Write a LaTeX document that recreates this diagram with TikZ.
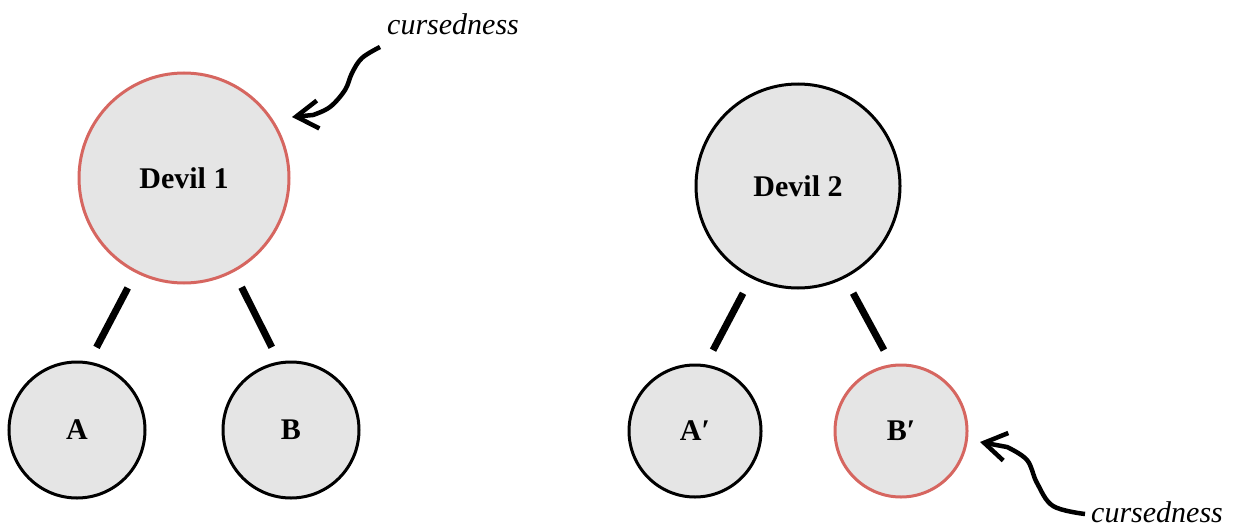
\documentclass[tikz,border=0pt]{standalone}
\usepackage{fontspec}
\setmainfont{Liberation Serif}
\usetikzlibrary{arrows.meta}
\definecolor{ballfill}{RGB}{229,229,229}
\definecolor{cursered}{RGB}{214,102,96}
\tikzset{
  ball/.style={circle, draw=black, line width=3pt, fill=ballfill, inner sep=0pt,
    font=\fontsize{30}{36}\selectfont\bfseries},
  cursed/.style={draw=cursered},
  link/.style={line width=7pt, shorten >=16pt, shorten <=17pt},
  note/.style={font=\fontsize{30}{36}\selectfont\itshape, inner sep=0pt},
  curl/.style={line width=4.5pt, -{Straight Barb[length=22pt,width=28pt,line width=4.5pt]}}
}
\begin{document}
\begin{tikzpicture}[x=1pt,y=-1pt]
  \useasboundingbox (0,0) rectangle (1233,527);

  % left tree
  \node[ball, cursed, minimum size=210pt] (D1) at (184,178) {Devil 1};
  \node[ball, minimum size=136pt] (A) at (77,430) {A};
  \node[ball, minimum size=136pt] (B) at (291,430) {B};
  \draw[link] (D1.243) -- (A.80);
  \draw[link] (D1.298) -- (B.100);

  % right tree
  \node[ball, minimum size=204pt] (D2) at (798,186) {Devil 2};
  \node[ball, minimum size=132pt] (A2) at (695,431) {A′};
  \node[ball, cursed, minimum size=132pt] (B2) at (901,431) {B′};
  \draw[link] (D2.243) -- (A2.81);
  \draw[link] (D2.297) -- (B2.98);

  % annotations
  \node[note, anchor=west] (c1) at (387,24) {cursedness};
  \node[note, anchor=west] (c2) at (1091,512) {cursedness};
  \coordinate (t1) at (292,117);
  \coordinate (t2) at (980,442);
  \draw[curl] plot[smooth, tension=0.6] coordinates
    {(380,47) (362,58) (352,73) (345,90) (330,107) (313,115)} -- (t1);
  \draw[curl] plot[smooth, tension=0.6] coordinates
    {(1085,514) (1053,506) (1037,483) (1027,460) (1007,447)} -- (t2);
\end{tikzpicture}
\end{document}
